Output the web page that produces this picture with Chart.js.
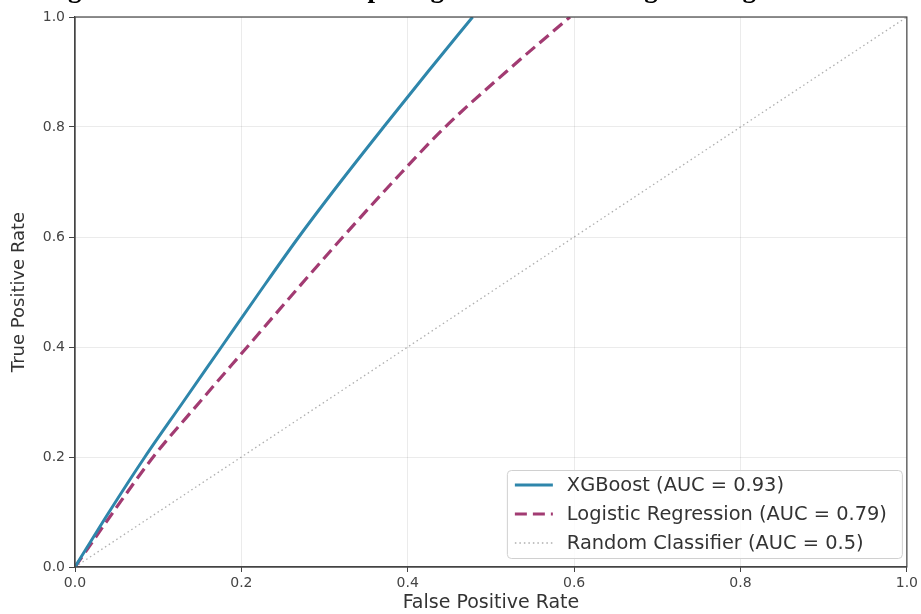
<!DOCTYPE html>
<html>
<head>
<meta charset="utf-8">
<script src="https://cdn.jsdelivr.net/npm/chart.js@4.4.1/dist/chart.umd.min.js"></script>
<style>
    html, body { margin: 0; padding: 0; background: #fff; overflow: hidden; }
    #wrap { position: relative; width: 921px; height: 614px; }
    #titolo {
        position: absolute; left: 44px; top: -25px;
        font: bold 27px "Liberation Serif", serif;
        line-height: 27px; color: #000; white-space: nowrap;
    }
    canvas { position: absolute; left: 0; top: 0; }
</style>
</head>
<body>
<div id="wrap">
    <canvas id="rocChart" width="921" height="614"></canvas>
    <div id="titolo">Figure 5: ROC Curves Comparing XGBoost and Logistic Regression</div>
</div>
<script>
// ── Dati ─────────────────────────────────────────────────────
const xgbFpr = [0, 0.041, 0.084, 0.130, 0.176, 0.222, 0.269, 0.319, 0.371, 0.424, 0.478];
const xgbTpr = [0, 0.1, 0.2, 0.3, 0.4, 0.5, 0.6, 0.7, 0.8, 0.9, 1.0];
const lrFpr = [0, 0.046, 0.094, 0.150, 0.207, 0.264, 0.322, 0.382, 0.445, 0.518, 0.595];
const lrTpr = [0, 0.1, 0.2, 0.3, 0.4, 0.5, 0.6, 0.7, 0.8, 0.9, 1.0];
const randFpr = [0, 1];
const randTpr = [0, 1];
const tickValues = [0, 0.2, 0.4, 0.6, 0.8, 1.0];
const etichette = ['XGBoost (AUC = 0.93)', 'Logistic Regression (AUC = 0.79)', 'Random Classifier (AUC = 0.5)'];

function punti(xs, ys) {
    return xs.map((x, i) => ({ x: x, y: ys[i] }));
}

// ── Legenda dentro l'area del grafico ────────────────────────
const legendaPlugin = {
    id: 'legendaInterna',
    afterDatasetsDraw(chart) {
        const c = chart.ctx;
        const area = chart.chartArea;
        const w = 395, h = 88;
        const x0 = area.right - 5 - w, y0 = area.bottom - 9 - h;
        c.save();
        c.fillStyle = 'rgba(255,255,255,0.85)';
        c.strokeStyle = '#d0d0d0';
        c.lineWidth = 1;
        c.beginPath();
        c.roundRect(x0 + 0.5, y0 + 0.5, w, h, 4);
        c.fill();
        c.stroke();
        c.font = '19.4px "DejaVu Sans"';
        c.textBaseline = 'middle';
        chart.data.datasets.forEach((ds, i) => {
            const y = y0 + 15 + i * 29;
            c.strokeStyle = ds.borderColor;
            c.lineWidth = ds.borderWidth;
            c.setLineDash(ds.borderDash || []);
            c.beginPath();
            c.moveTo(x0 + 8, y);
            c.lineTo(x0 + 46, y);
            c.stroke();
            c.setLineDash([]);
            c.fillStyle = '#333';
            c.fillText(ds.label, x0 + 60, y + 1);
        });
        c.restore();
    }
};

// ── Cornice (spine sopra e a destra) ─────────────────────────
const cornicePlugin = {
    id: 'cornice',
    afterDraw(chart) {
        const c = chart.ctx;
        const a = chart.chartArea;
        c.save();
        c.strokeStyle = '#444';
        c.lineWidth = 1.2;
        c.strokeRect(a.left, a.top, a.right - a.left, a.bottom - a.top);
        c.restore();
    }
};

const ctx = document.getElementById('rocChart').getContext('2d');
const rocChart = new Chart(ctx, {
    type: 'scatter',
    data: {
        datasets: [
            {
                label: etichette[0],
                data: punti(xgbFpr, xgbTpr),
                showLine: true,
                borderColor: '#2E86AB',
                borderWidth: 3,
                pointRadius: 0,
                cubicInterpolationMode: 'monotone'
            },
            {
                label: etichette[1],
                data: punti(lrFpr, lrTpr),
                showLine: true,
                borderColor: '#A23B72',
                borderWidth: 3.2,
                borderDash: [12, 6],
                pointRadius: 0,
                cubicInterpolationMode: 'monotone'
            },
            {
                label: etichette[2],
                data: punti(randFpr, randTpr),
                showLine: true,
                borderColor: 'rgba(120,120,120,0.6)',
                borderWidth: 1.3,
                borderDash: [1.5, 3],
                pointRadius: 0
            }
        ]
    },
    options: {
        responsive: false,
        animation: false,
        layout: { padding: { top: 17, right: 14, left: 0, bottom: 0 } },
        plugins: {
            legend: { display: false },
            tooltip: { enabled: false }
        },
        scales: {
            x: {
                type: 'linear', min: 0, max: 1,
                afterBuildTicks: (s) => { s.ticks = tickValues.map(v => ({ value: v })); },
                afterFit: (s) => { s.height = 47; },
                ticks: {
                    callback: (v) => v.toFixed(1),
                    color: '#444', font: { family: 'DejaVu Sans', size: 14 }, padding: 3
                },
                grid: { color: 'rgba(0,0,0,0.08)', tickColor: '#444', tickLength: 5 },
                border: { color: '#444', width: 1.2 },
                title: {
                    display: true, text: 'False Positive Rate', color: '#333',
                    font: { family: 'DejaVu Sans', size: 19 }, padding: { top: 0, bottom: 0 }
                }
            },
            y: {
                type: 'linear', min: 0, max: 1,
                afterBuildTicks: (s) => { s.ticks = tickValues.map(v => ({ value: v })); },
                afterFit: (s) => { s.width = 75; },
                ticks: {
                    callback: (v) => v.toFixed(1),
                    color: '#444', font: { family: 'DejaVu Sans', size: 14 }, padding: 4
                },
                grid: { color: 'rgba(0,0,0,0.08)', tickColor: '#444', tickLength: 6 },
                border: { color: '#444', width: 1.2 },
                title: {
                    display: true, text: 'True Positive Rate', color: '#333',
                    font: { family: 'DejaVu Sans', size: 18 }, padding: { top: 9, bottom: 0 }
                }
            }
        }
    },
    plugins: [legendaPlugin, cornicePlugin]
});
</script>
</body>
</html>
